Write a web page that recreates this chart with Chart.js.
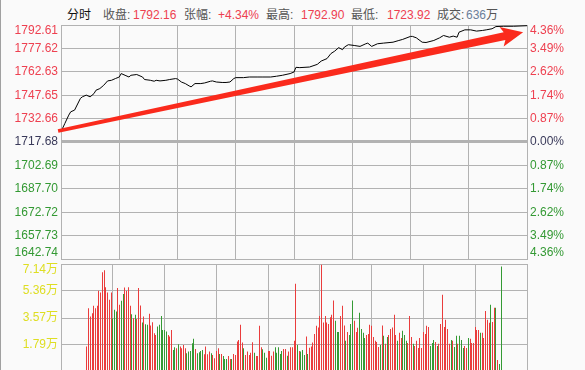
<!DOCTYPE html>
<html>
<head>
<meta charset="utf-8">
<script src="https://cdn.jsdelivr.net/npm/chart.js@4.4.1/dist/chart.umd.min.js"></script>
<style>
html, body { margin: 0; padding: 0; width: 585px; height: 370px; overflow: hidden; background: #fafafa; }
body { position: relative; font-family: "Liberation Sans", "Noto Sans CJK SC", sans-serif; font-size: 12px; }
#frame { position: absolute; left: 0; top: 0; width: 1px; height: 370px; background: #a0a0a0; }
#head span { position: absolute; top: 8px; line-height: 14px; white-space: nowrap; color: #555; }
#head .v { color: #ee4050; }
#priceChart { position: absolute; left: 0; top: 0; }
#volChart { position: absolute; left: 0; top: 262px; }
</style>
</head>
<body>
<div id="frame"></div>
<div id="head">
  <span style="left:67px;color:#111">分时</span>
  <span style="left:103px">收盘:</span><span class="v" style="left:133px">1792.16</span>
  <span style="left:184px">张幅:</span><span class="v" style="left:218px">+4.34%</span>
  <span style="left:266px">最高:</span><span class="v" style="left:301px">1792.90</span>
  <span style="left:351px">最低:</span><span class="v" style="left:387px">1723.92</span>
  <span style="left:437px">成交:</span><span style="left:466px;color:#6a7f9a">636</span><span style="left:486px">万</span>
</div>
<canvas id="priceChart" width="585" height="262"></canvas>
<canvas id="volChart" width="585" height="112"></canvas>
<script>
// --- data ---
const basePrice = 1717.68;
const priceTicks = [1642.74, 1657.73, 1672.72, 1687.70, 1702.69, 1717.68, 1732.66, 1747.65, 1762.63, 1777.62, 1792.61];
const priceLabels = ['1642.74', '1657.73', '1672.72', '1687.70', '1702.69', '1717.68', '1732.66', '1747.65', '1762.63', '1777.62', '1792.61'];
const pctLabels = ['4.36%', '3.49%', '2.62%', '1.74%', '0.87%', '0.00%', '0.87%', '1.74%', '2.62%', '3.49%', '4.36%'];
const timeGrid = [0, 30, 60, 90, 120, 150, 180, 210, 240];

// minute index -> price
const priceMin = [0,2,4,5,7,10,11,13,15,17, 18,20,22,24,26,28,30,31,33,35,
  36,39,42,43,46,48,49,51,54,56, 59,60,62,64,66,67,69,72,74,77,
  78,80,83,85,87,89,90,94,97,101, 104,108,111,114,118,120,121,123,128,132,
  134,137,139,141,143,145,146,148,151,154, 157,158,160,163,166,171,174,176,180,181,
  183,186,188,192,195,197,200,202,204,205, 208,211,214,217,219,222,224,228,233,240];
const priceVal = [1724.25,1729.6,1734.9,1737.0,1738.1,1745.6,1746.6,1747.7,1746.6,1748.7,
  1750.8,1751.9,1754.0,1756.8,1757.2,1758.3,1759.3,1761.5,1760.4,1759.3,
  1760.4,1760.9,1759.3,1757.7,1757.2,1756.6,1757.2,1756.8,1757.2,1757.7,
  1758.3,1758.0,1756.1,1755.1,1753.6,1753.0,1755.1,1755.1,1755.5,1756.6,
  1756.8,1756.1,1755.8,1755.8,1756.1,1758.3,1758.9,1758.9,1759.3,1759.3,
  1759.3,1759.3,1759.8,1760.4,1761.5,1762.5,1765.5,1765.3,1765.7,1767.4,
  1769.5,1771.1,1774.3,1775.9,1778.1,1776.8,1778.5,1780.0,1779.5,1778.9,
  1780.6,1781.0,1778.9,1780.6,1781.0,1781.6,1782.7,1783.4,1785.3,1785.3,
  1784.4,1781.6,1781.4,1782.7,1784.4,1785.9,1784.8,1785.5,1784.8,1788.0,
  1789.5,1789.5,1788.7,1789.1,1789.5,1790.2,1791.6,1791.8,1791.8,1792.16];

// volume per minute (万), one bar per minute 0..240
const volTicks = [1.79, 3.57, 5.36, 7.14];
const volLabels = ['1.79万', '3.57万', '5.36万', '7.14万'];
const volVals = [
  1.68,4.22,3.67,3.89,4.38,4.22,4.38,5.37,5.26,6.59,
  6.72,5.61,5.26,4.77,5.26,3.56,4.11,4.00,5.55,4.44,
  4.71,5.15,5.59,5.37,5.61,4.38,3.82,3.56,3.78,3.51,
  5.55,4.40,3.27,3.67,3.16,3.12,3.85,3.07,3.29,2.56,
  2.45,3.01,3.12,3.71,2.78,2.78,2.67,2.45,2.34,2.78,
  1.46,1.63,1.57,1.83,1.68,1.57,1.79,1.57,1.24,1.35,
  1.39,1.90,2.19,1.52,1.24,1.30,1.39,1.46,1.17,1.68,
  1.17,1.35,
  1.24,1.13,0.91,1.39,1.57,1.19,1.19,1.06,0.86,0.86,
  1.06,0.86,0.86,1.19,1.13,2.01,2.12,3.12,1.95,1.57,
  1.13,1.35,1.13,1.28,1.97,1.28,1.06,1.06,3.05,1.63,
  1.50,1.28,0.95,1.39,1.39,1.08,1.35,1.63,1.28,1.63,
  1.19,1.39,1.52,1.52,1.08,1.35,1.63,1.63,2.06,5.83,
  1.79,1.39,1.35,1.46,1.13,2.34,1.19,1.61,1.68,1.95,
  2.52,3.05,2.94,3.71,7.09,3.27,3.71,3.27,3.18,3.62,
  3.78,4.73,3.38,2.65,2.65,3.71,4.38,3.07,2.06,2.65,
  2.45,3.18,4.73,3.38,2.65,2.92,3.91,2.85,2.59,2.25,
  2.45,2.52,3.12,3.05,2.32,2.06,1.99,1.66,
  1.79,3.07,2.39,1.86,2.32,2.45,2.85,2.94,3.78,2.45,
  2.06,2.59,2.25,2.72,2.45,2.06,1.92,3.71,2.32,1.86,
  1.72,2.06,1.59,2.25,1.59,2.65,2.52,3.05,2.98,1.72,
  1.92,2.12,1.99,1.72,1.86,3.18,5.11,2.98,3.45,2.85,
  1.86,2.12,2.06,1.66,2.39,1.86,2.39,2.12,1.59,1.72,
  1.59,2.25,2.19,1.92,1.92,2.98,2.78,2.78,2.59,2.59,
  2.25,4.04,3.45,3.25,4.44,3.31,4.24,4.24,0.80,0.53,
  6.98];
// r = up minute, g = down minute
const volSide = [
  'rrrrrrrrrr','rrrrrgggrr','ggrrrrgrgr','rrgrggrrrr','rggggggrrr','ggrgrrrrgg','gggrggggrr','rr',
  'grrrrgrggg','rrgrrrrrrg','rrrrrgrrrr','gggrrrrggg','ggrrgrrrrr','grgggrgrrr','rrrrrrrrrr','rrgggrrrgr','gggrrrgggg','rrrrrrrr',
  'grgrgrrrrr','grrgggrrrg','rrrrrrrrrg','ggrgrrrrrr','rgrggrgggr','rgrrrrrrgr','rrrrgrrgrg','g'
].join('').split('');

// trend arrow drawn over the price panel: [minute, price]
const arrowFrom = [-1.5, 1724.7];
const arrowTo = [238, 1788.0];

// --- styling ---
const gridColor = '#b2b2b2';
const red = '#ee4050';
const green = '#339933';
const tickFont = { family: '"Liberation Sans", "Noto Sans CJK SC", sans-serif', size: 12, lineHeight: 1 };

function sideColor(v) {
  if (v > basePrice) return red;
  if (v < basePrice) return green;
  return '#3a3a5a';
}

function xScale() {
  return {
    type: 'linear', min: 0, max: 240,
    afterBuildTicks: s => { s.ticks = timeGrid.map(v => ({ value: v })); },
    afterFit: s => { s.height = 0; s.paddingLeft = 0; s.paddingRight = 0; },
    ticks: { display: false },
    grid: { color: gridColor, drawTicks: false },
    border: { display: false }
  };
}

// top and bottom labels sit inside the panel
function edgeLabel(text, i, n) {
  if (i === n - 1) return ['', text];
  if (i === 0) return [text, ''];
  return text;
}

const arrowPlugin = {
  id: 'trendArrow',
  afterDatasetsDraw(chart) {
    const { ctx, scales: { x, y } } = chart;
    const x0 = x.getPixelForValue(arrowFrom[0]), y0 = y.getPixelForValue(arrowFrom[1]);
    const x1 = x.getPixelForValue(arrowTo[0]), y1 = y.getPixelForValue(arrowTo[1]);
    const len = Math.hypot(x1 - x0, y1 - y0);
    ctx.save();
    ctx.translate(x0, y0);
    ctx.rotate(Math.atan2(y1 - y0, x1 - x0));
    ctx.fillStyle = '#fa2a1c';
    ctx.beginPath();
    ctx.moveTo(0, -1.8);
    ctx.lineTo(len - 19, -4);
    ctx.lineTo(len - 22, -10);
    ctx.lineTo(len, 0);
    ctx.lineTo(len - 22, 10);
    ctx.lineTo(len - 19, 4);
    ctx.lineTo(0, 1.8);
    ctx.closePath();
    ctx.fill();
    ctx.restore();
  }
};

// snap the 1px volume bars onto whole pixels so they stay crisp
const crispBars = {
  id: 'crispBars',
  beforeDatasetsDraw(chart) {
    chart.getDatasetMeta(0).data.forEach(el => {
      el.x = Math.floor(el.x) + 0.5;
      el.width = 1;
    });
  }
};

new Chart(document.getElementById('priceChart'), {
  type: 'line',
  data: {
    datasets: [{
      data: priceMin.map((m, i) => ({ x: m, y: priceVal[i] })),
      borderColor: '#000',
      borderWidth: 1,
      pointRadius: 0,
      tension: 0
    }]
  },
  options: {
    responsive: false,
    animation: false,
    events: [],
    devicePixelRatio: 1,
    layout: { padding: { top: 25, bottom: 3, left: 0, right: 0 } },
    plugins: { legend: { display: false }, tooltip: { enabled: false } },
    scales: {
      x: xScale(),
      y: {
        position: 'left',
        min: priceTicks[0], max: priceTicks[priceTicks.length - 1],
        afterBuildTicks: s => { s.ticks = priceTicks.map(v => ({ value: v })); },
        afterFit: s => { s.width = 61; s.paddingTop = 0; s.paddingBottom = 0; },
        ticks: {
          autoSkip: false,
          padding: 3,
          font: tickFont,
          color: c => sideColor(priceTicks[c.index]),
          callback: (v, i) => edgeLabel(priceLabels[i], i, priceLabels.length)
        },
        grid: {
          color: gridColor,
          lineWidth: c => (c.index === 5 ? 3 : 1),
          drawTicks: false
        },
        border: { color: gridColor }
      },
      y1: {
        position: 'right',
        min: priceTicks[0], max: priceTicks[priceTicks.length - 1],
        afterBuildTicks: s => { s.ticks = priceTicks.map(v => ({ value: v })); },
        afterFit: s => { s.width = 58; s.paddingTop = 0; s.paddingBottom = 0; },
        ticks: {
          autoSkip: false,
          padding: 3,
          font: tickFont,
          color: c => sideColor(priceTicks[c.index]),
          callback: (v, i) => edgeLabel(pctLabels[i], i, pctLabels.length)
        },
        grid: { display: false, drawTicks: false },
        border: { color: gridColor }
      }
    }
  },
  plugins: [arrowPlugin]
});

new Chart(document.getElementById('volChart'), {
  type: 'bar',
  data: {
    datasets: [{
      data: volVals.map((v, i) => ({ x: i, y: v })),
      backgroundColor: volSide.map(s => (s === 'r' ? '#ea3c3c' : '#349a34')),
      barThickness: 1,
      borderWidth: 0,
      inflateAmount: 0
    }]
  },
  options: {
    responsive: false,
    animation: false,
    events: [],
    devicePixelRatio: 1,
    layout: { padding: { top: 2, bottom: 2, left: 0, right: 58 } },
    plugins: { legend: { display: false }, tooltip: { enabled: false } },
    scales: {
      x: xScale(),
      y: {
        position: 'left',
        min: 0, max: volTicks[volTicks.length - 1],
        afterBuildTicks: s => { s.ticks = volTicks.map(v => ({ value: v })); },
        afterFit: s => { s.width = 61; s.paddingTop = 0; s.paddingBottom = 0; },
        ticks: {
          autoSkip: false,
          padding: 3,
          font: tickFont,
          color: '#dede22',
          callback: (v, i) => (i === volLabels.length - 1 ? ['', volLabels[i]] : volLabels[i])
        },
        grid: { color: gridColor, drawTicks: false },
        border: { color: gridColor }
      }
    }
  },
  plugins: [crispBars]
});
</script>
</body>
</html>
